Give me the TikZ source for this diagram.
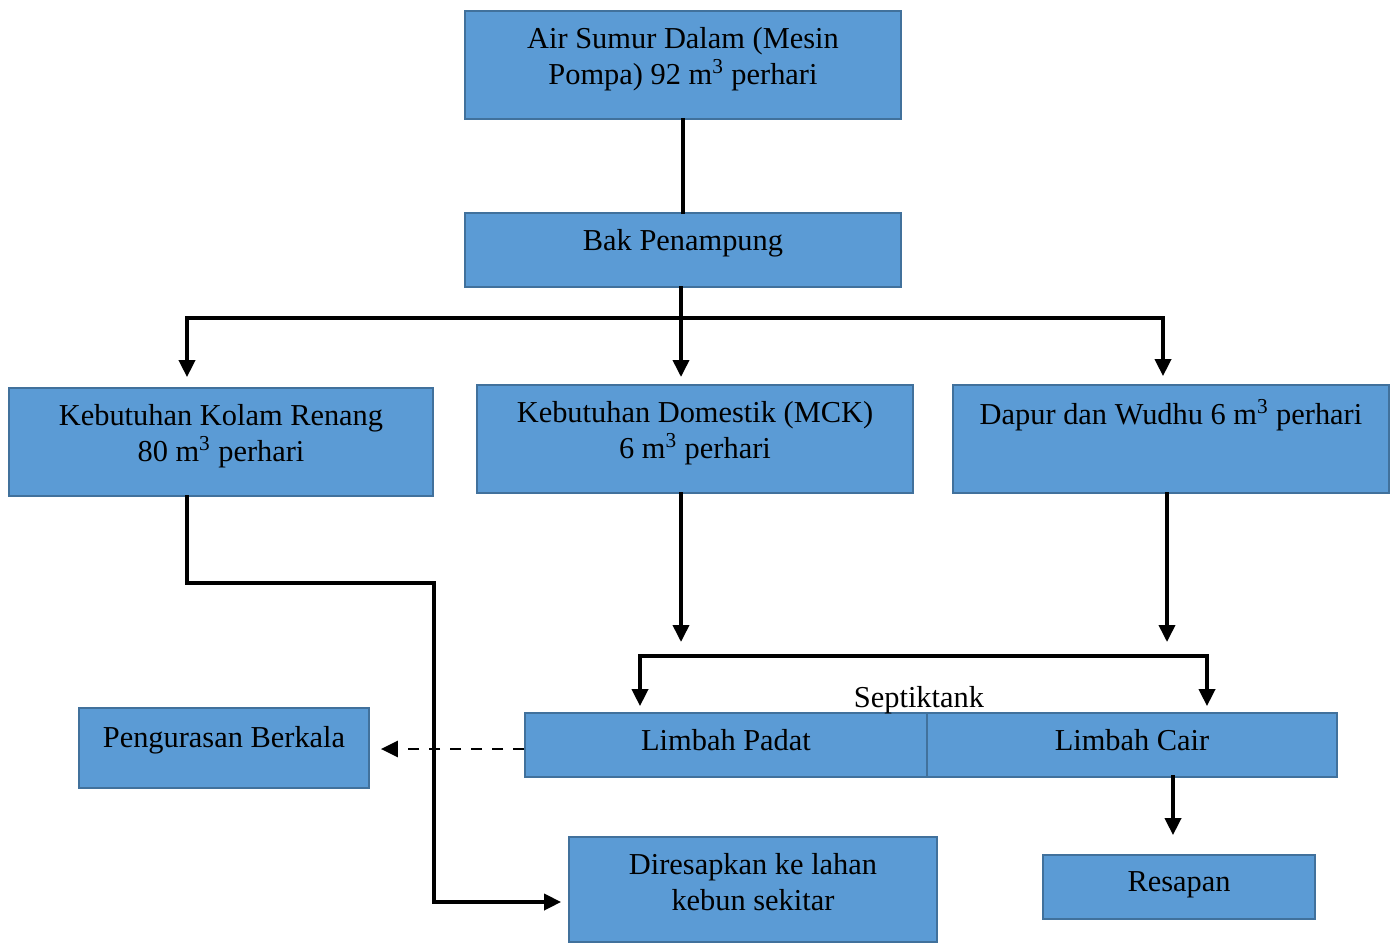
\documentclass[tikz,border=0pt]{standalone}
\usepackage{fontspec}
\setmainfont{Liberation Serif}
\usetikzlibrary{arrows.meta}

\definecolor{boxfill}{HTML}{5B9BD5}
\definecolor{boxline}{HTML}{41719C}

\begin{document}
\begin{tikzpicture}[
    box/.style={draw=boxline, line width=1pt, fill=boxfill, align=center,
        inner sep=0pt, font=\fontsize{17.3}{20.5}\selectfont},
    flow/.style={line width=2.1pt, line cap=rect},
    flowarrow/.style={flow, -{Triangle[length=0.34cm,width=0.32cm]}},
    dasharrow/.style={line width=1.5pt, dash pattern=on 0.22cm off 0.2cm,
        -{Triangle[length=0.34cm,width=0.32cm]}}
]
    % Frame of the page
    \useasboundingbox (0,0) rectangle (27.9,-18.84);

    % Boxes
    \node[box, minimum width=8.72cm, minimum height=2.16cm, text depth=0.38cm] (air) at (13.66,-1.30)
        {Air Sumur Dalam (Mesin\\Pompa) 92 m\textsuperscript{3} perhari};
    \node[box, minimum width=8.72cm, minimum height=1.48cm, text depth=0.4cm] (bak) at (13.66,-5.00)
        {Bak Penampung};
    \node[box, minimum width=8.48cm, minimum height=2.16cm, text depth=0.38cm] (kolam) at (4.42,-8.84)
        {Kebutuhan Kolam Renang\\80 m\textsuperscript{3} perhari};
    \node[box, minimum width=8.72cm, minimum height=2.16cm, text depth=0.38cm] (mck) at (13.90,-8.78)
        {Kebutuhan Domestik (MCK)\\6 m\textsuperscript{3} perhari};
    \node[box, minimum width=8.72cm, minimum height=2.16cm, text depth=0.38cm] (dapur) at (23.42,-8.78)
        {Dapur dan Wudhu 6 m\textsuperscript{3} perhari\\\mbox{}};
    \node[box, minimum width=5.80cm, minimum height=1.60cm, text depth=0.45cm] (kuras) at (4.48,-14.96)
        {Pengurasan Berkala};
    \node[box, minimum width=8.04cm, minimum height=1.28cm, text depth=0.2cm] (padat) at (14.52,-14.90)
        {Limbah Padat};
    \node[box, minimum width=8.20cm, minimum height=1.28cm, text depth=0.2cm] (cair) at (22.64,-14.90)
        {Limbah Cair};
    \node[box, minimum width=7.36cm, minimum height=2.10cm, text depth=0.3cm] (resap) at (15.06,-17.79)
        {Diresapkan ke lahan\\kebun sekitar};
    \node[box, minimum width=5.44cm, minimum height=1.28cm, text depth=0.2cm] (resapan) at (23.58,-17.74)
        {Resapan};

    % Septiktank label
    \node[font=\fontsize{17.3}{20.5}\selectfont] (septik) at (18.38,-14.00) {Septiktank};

    % Points where the lines split or turn
    \coordinate (busL) at (3.74,-6.36);
    \coordinate (busR) at (23.26,-6.36);
    \coordinate (turnA) at (3.74,-11.66);
    \coordinate (turnB) at (8.68,-11.66);
    \coordinate (turnC) at (8.68,-18.04);
    \coordinate (mckEnd) at (13.62,-12.84);
    \coordinate (dapurEnd) at (23.34,-12.84);
    \coordinate (septL) at (12.80,-13.12);
    \coordinate (septR) at (24.14,-13.12);
    \coordinate (cairOut) at (23.46,-15.54);

    % Supply lines
    \draw[flow] (air.south) -- (bak.north);
    \draw[flow] (bak.south -| 13.62,0) -- (13.62,-6.36);
    \draw[flow] (busL) -- (busR);
    \draw[flowarrow, shorten >=0.2cm] (busL) -- (busL |- kolam.north);
    \draw[flowarrow, shorten >=0.16cm] (13.62,-6.36) -- (13.62,-7.70);
    \draw[flowarrow, shorten >=0.16cm] (busR) -- (busR |- dapur.north);

    % Pool water to the garden
    \draw[flowarrow, shorten >=0.14cm] (turnA |- kolam.south) -- (turnA) -- (turnB) -- (turnC) -- (turnC -| resap.west);

    % Waste water to the septic tank
    \draw[flowarrow] (mckEnd |- mck.south) -- (mckEnd);
    \draw[flowarrow] (dapurEnd |- dapur.south) -- (dapurEnd);
    \draw[flow] (septL) -- (septR);
    \draw[flowarrow, shorten >=0.12cm] (septL) -- (septL |- padat.north);
    \draw[flowarrow, shorten >=0.12cm] (septR) -- (septR |- cair.north);

    % Out of the septic tank
    \draw[dasharrow, shorten >=0.22cm] ([yshift=-0.08cm]padat.west) -- ([yshift=-0.08cm]padat.west -| kuras.east);
    \draw[flowarrow, shorten >=0.38cm] (cairOut) -- (cairOut |- resapan.north);

\end{tikzpicture}
\end{document}
